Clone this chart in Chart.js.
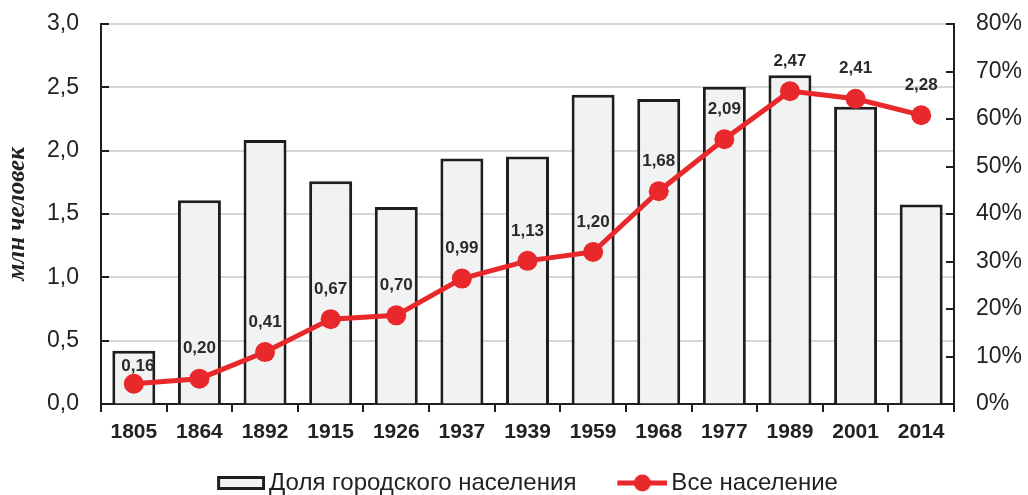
<!DOCTYPE html>
<html><head><meta charset="utf-8">
<script src="https://cdn.jsdelivr.net/npm/chart.js@4.4.0/dist/chart.umd.min.js"></script>
<style>html,body{margin:0;padding:0;background:#fff;}</style>
</head><body>
<canvas id="c" width="1028" height="495"></canvas>
<script>
// ---- data ----
const years = ['1805','1864','1892','1915','1926','1937','1939','1959','1968','1977','1989','2001','2014'];
const urbanShare = [11.2, 42.9, 55.6, 46.9, 41.5, 51.7, 52.1, 65.1, 64.2, 66.8, 69.2, 62.6, 42.0]; // %
const totalPopulation = [0.16, 0.20, 0.41, 0.67, 0.70, 0.99, 1.13, 1.20, 1.68, 2.09, 2.47, 2.41, 2.28]; // mln
const seriesNames = ['Доля городского населения', 'Все население'];
const leftAxisTitle = 'млн человек';

// ---- styles ----
const INK = '#1e1e1e';
const TXT = '#222222';
const RED = '#e8282b';
const BAR_FILL = '#f1f2f2';
Chart.defaults.font.family = "'Liberation Sans', Arial, sans-serif";

// legend icons: visible symbol sits at the right end of a wider transparent canvas
const ICON_W = 83;
function makeBarIcon(){
  const c = document.createElement('canvas'); c.width = ICON_W; c.height = 14;
  const g = c.getContext('2d');
  const x0 = ICON_W - 48;
  g.fillStyle = BAR_FILL; g.fillRect(x0,0,48,14);
  g.strokeStyle = INK; g.lineWidth = 3; g.strokeRect(x0 + 1.5,1.5,45,11);
  return c;
}
function makeLineIcon(){
  const c = document.createElement('canvas'); c.width = ICON_W; c.height = 18;
  const g = c.getContext('2d');
  const x0 = ICON_W - 50;
  g.strokeStyle = RED; g.lineWidth = 5; g.beginPath(); g.moveTo(x0,9); g.lineTo(x0 + 50,9); g.stroke();
  g.fillStyle = RED; g.beginPath(); g.arc(x0 + 25,9,8.5,0,Math.PI*2); g.fill();
  return c;
}
const legendIcons = [makeBarIcon(), makeLineIcon()];

const fmt = v => v.toFixed(2).replace('.', ',');

const pointLabels = {
  id: 'pointLabels',
  afterDatasetsDraw(chart){
    const ctx = chart.ctx;
    const meta = chart.getDatasetMeta(1);
    ctx.save();
    ctx.font = "bold 17px 'Liberation Sans', Arial, sans-serif";
    ctx.fillStyle = '#2a2a2a';
    ctx.textAlign = 'center';
    ctx.textBaseline = 'middle';
    meta.data.forEach((pt, i) => {
      const off = i === 0 ? 17 : 30;
      const dx = i === 0 ? 4 : 0;
      ctx.fillText(fmt(totalPopulation[i]), pt.x + dx, pt.y - off);
    });
    ctx.restore();
  }
};

const innerTicks = {
  id: 'innerTicks',
  afterDraw(chart){
    const ctx = chart.ctx;
    const a = chart.chartArea;
    ctx.save();
    ctx.strokeStyle = INK; ctx.lineWidth = 2;
    const ys = chart.scales.y, yr = chart.scales.y1;
    ys.ticks.forEach(t => {
      const y = Math.round(ys.getPixelForValue(t.value));
      ctx.beginPath(); ctx.moveTo(a.left, y); ctx.lineTo(a.left + 8, y); ctx.stroke();
    });
    yr.ticks.forEach(t => {
      const y = Math.round(yr.getPixelForValue(t.value));
      ctx.beginPath(); ctx.moveTo(a.right, y); ctx.lineTo(a.right - 8, y); ctx.stroke();
    });
    ctx.restore();
  }
};

// move the legend row down a little
const legendShift = {
  id: 'legendShift',
  afterLayout(chart){
    if (chart.legend) { chart.legend.top += 10; chart.legend.bottom += 10; }
  }
};

const noVPad = s => { s.paddingTop = 0; s.paddingBottom = 0; };

new Chart(document.getElementById('c'), {
  data: {
    labels: years,
    datasets: [
      {
        type: 'bar',
        label: seriesNames[0],
        data: urbanShare,
        yAxisID: 'y1',
        backgroundColor: BAR_FILL,
        borderColor: INK,
        borderWidth: 3,
        barPercentage: 0.655,
        categoryPercentage: 1,
        order: 2
      },
      {
        type: 'line',
        label: seriesNames[1],
        data: totalPopulation,
        yAxisID: 'y',
        borderColor: RED,
        backgroundColor: RED,
        borderWidth: 5,
        pointRadius: 10,
        pointHoverRadius: 10,
        pointBackgroundColor: RED,
        pointBorderWidth: 0,
        tension: 0,
        order: 1
      }
    ]
  },
  options: {
    responsive: false,
    animation: false,
    devicePixelRatio: 1,
    layout: { padding: { top: 24, left: 0, right: 0, bottom: 0 } },
    plugins: {
      tooltip: { enabled: false },
      legend: {
        position: 'bottom',
        labels: {
          usePointStyle: true,
          pointStyleWidth: 67,
          padding: 16,
          color: TXT,
          font: { size: 24 },
          sort: (a, b) => a.datasetIndex - b.datasetIndex,
          generateLabels: chart => Chart.defaults.plugins.legend.labels.generateLabels(chart).map(l => {
            l.pointStyle = legendIcons[l.datasetIndex];
            return l;
          })
        }
      }
    },
    scales: {
      x: {
        type: 'category',
        offset: true,
        grid: { offset: true, drawOnChartArea: false, drawTicks: true, tickLength: 8, color: INK, lineWidth: 2 },
        border: { color: INK, width: 2 },
        ticks: { color: TXT, font: { size: 21, weight: 'bold' }, padding: 8, maxRotation: 0, autoSkip: false },
        afterFit: s => { s.height = 41; }
      },
      y: {
        position: 'left',
        min: 0, max: 3,
        ticks: { stepSize: 0.5, color: TXT, font: { size: 23 }, padding: 22,
                 callback: v => v.toFixed(1).replace('.', ',') },
        grid: { color: '#d6d6d6', lineWidth: 2, drawTicks: false },
        border: { color: INK, width: 2 },
        title: { display: true, text: leftAxisTitle, color: TXT,
                 font: { family: "'Liberation Serif', 'Times New Roman', serif", size: 25, style: 'italic', weight: 'bold' },
                 padding: { top: 3, bottom: 0 } },
        afterFit: s => { s.width = 101; noVPad(s); }
      },
      y1: {
        position: 'right',
        min: 0, max: 80,
        ticks: { stepSize: 10, color: TXT, font: { size: 23 }, padding: 22, callback: v => v + '%' },
        grid: { drawOnChartArea: false, drawTicks: false },
        border: { color: INK, width: 2 },
        afterFit: s => { s.width = 74; noVPad(s); }
      }
    }
  },
  plugins: [pointLabels, innerTicks, legendShift]
});
</script>
</body></html>
